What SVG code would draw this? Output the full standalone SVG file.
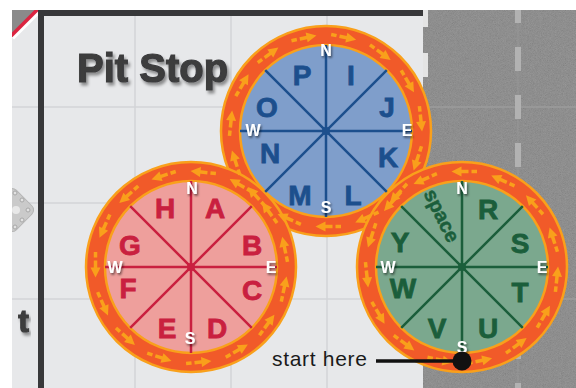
<svg xmlns="http://www.w3.org/2000/svg" width="576" height="388" viewBox="0 0 576 388">
<style>
.ring{fill:#f15a29;stroke:#f9a01b;stroke-width:2.5}
.disk{stroke:#f9a01b;stroke-width:2.5}
.adash{stroke:#f9a01b;stroke-width:3.5;fill:none}
.ahead{fill:#f9a01b}
.spk{fill:none;stroke-width:2.5}
.letter{font-family:"Liberation Sans",Arial,sans-serif;font-weight:bold;font-size:28px;text-anchor:middle;stroke-width:0.8}
.dir{font-family:"Liberation Sans",Arial,sans-serif;font-weight:bold;font-size:16px;fill:#ffffff;text-anchor:middle}
.title{font-family:"Liberation Sans",Arial,sans-serif;font-weight:bold;font-size:40px;fill:#3c3c3e;stroke:#3c3c3e;stroke-width:1.2}
.grid{stroke:#d3d4d7;stroke-width:1.5}
.frame{fill:#38383a}
</style>
<defs>
<filter id="sh" x="-30%" y="-30%" width="160%" height="160%"><feDropShadow dx="1.2" dy="1.8" stdDeviation="1" flood-color="#000" flood-opacity="0.55"/></filter>
<filter id="tsh" x="-10%" y="-20%" width="120%" height="140%"><feDropShadow dx="2" dy="3" stdDeviation="1.8" flood-color="#000" flood-opacity="0.4"/></filter>
<filter id="noise" x="0" y="0" width="100%" height="100%"><feTurbulence type="fractalNoise" baseFrequency="1.4" numOctaves="1" seed="7"/><feColorMatrix type="matrix" values="0.33 0.33 0.33 0 0  0.33 0.33 0.33 0 0  0.33 0.33 0.33 0 0  0 0 0 0 1"/></filter>
<g id="unit"><path class="adash" d="M-15,-95.5H-9.5M-6.5,-95.5H2"/><path class="ahead" d="M0.5,-100.5L10.5,-95.5L0.5,-90.5Z"/></g>
<g id="arrows">
<use href="#unit"/><use href="#unit" transform="rotate(24)"/><use href="#unit" transform="rotate(48)"/><use href="#unit" transform="rotate(72)"/><use href="#unit" transform="rotate(96)"/><use href="#unit" transform="rotate(120)"/><use href="#unit" transform="rotate(144)"/><use href="#unit" transform="rotate(168)"/><use href="#unit" transform="rotate(192)"/><use href="#unit" transform="rotate(216)"/><use href="#unit" transform="rotate(240)"/><use href="#unit" transform="rotate(264)"/><use href="#unit" transform="rotate(288)"/><use href="#unit" transform="rotate(312)"/><use href="#unit" transform="rotate(336)"/>
</g>
<path id="spokes" d="M0,-86V86M-86,0H86M-60.8,-60.8L60.8,60.8M60.8,-60.8L-60.8,60.8"/>
</defs>

<!-- background -->
<rect width="576" height="388" fill="#ffffff"/>
<rect x="12" y="10" width="564" height="378" fill="#e7e8ea"/>
<g id="grid">
<path class="grid" d="M135,10V388M231,10V388M327,10V388M12,107H423M12,203H423M12,299H423"/>
</g>
<!-- road -->
<g id="road">
<rect x="423" y="10" width="153" height="378" fill="#7b7b7b"/>
<rect x="423" y="10" width="153" height="378" filter="url(#noise)" opacity="0.3"/>
<path d="M423,107H576M423,299H576" stroke="#9c9c9c" stroke-width="1.5"/>
<path d="M518,10V388" stroke="#969696" stroke-width="1"/>
<path d="M518,10V23M518,47V71M518,95V119M518,143V167M518,191V215M518,239V263M518,287V311M518,335V359M518,383V388" stroke="#b2b2b2" stroke-width="6"/>
<rect x="423" y="10" width="5" height="17" fill="#e4e4e4"/>
<rect x="423" y="53" width="5" height="24" fill="#e4e4e4"/>
</g>
<!-- corner and frame -->
<g id="corner">
<polygon points="12,10 37,10 12,35" fill="#8a8a8a"/>
<line x1="13" y1="38.5" x2="40.5" y2="11" stroke="#ffffff" stroke-width="3"/>
<line x1="11" y1="36" x2="38" y2="9" stroke="#dc2440" stroke-width="3.5"/>
</g>
<g id="plate">
<rect x="-5" y="193" width="34" height="34" rx="6" transform="rotate(45 12 210)" fill="#cacaca" stroke="#b5b5b5"/>
<circle cx="22" cy="200" r="2" fill="#e2e2e2" stroke="#a8a8a8"/>
<circle cx="28" cy="210" r="2" fill="#e2e2e2" stroke="#a8a8a8"/>
<circle cx="22" cy="220" r="2" fill="#e2e2e2" stroke="#a8a8a8"/>
<circle cx="15" cy="193" r="2" fill="#e2e2e2" stroke="#a8a8a8"/>
<circle cx="15" cy="227" r="2" fill="#e2e2e2" stroke="#a8a8a8"/>
<circle cx="16" cy="210" r="4" fill="#e8e8e8"/>
</g>
<rect x="0" y="0" width="12" height="388" fill="#ffffff"/>
<rect x="0" y="0" width="576" height="10" fill="#ffffff"/>
<text x="29" y="332" text-anchor="end" class="title" style="font-size:32px" filter="url(#tsh)">t</text>
<g id="frame">
<rect class="frame" x="38" y="10" width="385" height="6"/>
<rect class="frame" x="38" y="10" width="6" height="378"/>
</g>

<g id="title"><text class="title" x="77" y="82" filter="url(#tsh)">Pit Stop</text></g>

<!-- shared orange track under the wheels -->
<g id="track">
<circle class="ring" cx="326" cy="131" r="105"/>
<circle class="ring" cx="191" cy="267" r="105"/>
<circle class="ring" cx="462" cy="267" r="105"/>
</g>

<g id="wheel-blue">
<circle class="disk" cx="326" cy="131" r="86" fill="#7f9ecb"/>
<use href="#arrows" transform="translate(326,131) rotate(-12)"/>
<use href="#spokes" class="spk" stroke="#1c4f8d" transform="translate(326,131)"/>
<circle cx="326" cy="131" r="4" fill="#1c4f8d"/>
<g class="letter" fill="#1c4f8d" stroke="#1c4f8d">
<text x="302" y="85">P</text><text x="351" y="85">I</text><text x="387" y="117">J</text><text x="388" y="167">K</text>
<text x="353" y="205">L</text><text x="300" y="205">M</text><text x="270" y="163">N</text><text x="267" y="117">O</text>
</g>
<g class="dir" filter="url(#sh)">
<text x="326" y="56">N</text><text x="407" y="136">E</text><text x="326" y="213">S</text><text x="253" y="136">W</text>
</g>
</g>

<g id="wheel-red">
<circle class="disk" cx="191" cy="267" r="86" fill="#ee9f9c"/>
<use href="#arrows" transform="translate(191,267) scale(-1,1) rotate(-6)"/>
<use href="#spokes" class="spk" stroke="#c9203f" transform="translate(191,267)"/>
<circle cx="191" cy="267" r="4" fill="#c9203f"/>
<g class="letter" fill="#c9203f" stroke="#c9203f">
<text x="165" y="218">H</text><text x="215" y="218">A</text><text x="252" y="255">B</text><text x="252" y="300">C</text>
<text x="217" y="338">D</text><text x="167" y="338">E</text><text x="128" y="298">F</text><text x="130" y="255">G</text>
</g>
<g class="dir" filter="url(#sh)">
<text x="192" y="194">N</text><text x="271" y="273">E</text><text x="190" y="344">S</text><text x="115" y="273">W</text>
</g>
</g>

<g id="wheel-green">
<circle class="disk" cx="462" cy="267" r="86" fill="#7ba88e"/>
<use href="#arrows" transform="translate(462,267) scale(-1,1) rotate(0)"/>
<use href="#spokes" class="spk" stroke="#1b5e3b" transform="translate(462,267)"/>
<circle cx="462" cy="267" r="4" fill="#1b5e3b"/>
<g class="letter" fill="#1b5e3b" stroke="#1b5e3b">
<text x="488" y="219">R</text><text x="520" y="253">S</text><text x="520" y="302">T</text><text x="488" y="338">U</text>
<text x="437" y="338">V</text><text x="403" y="298">W</text><text x="400" y="252">Y</text>
<text transform="translate(441,216) rotate(64)" y="6" style="font-size:20px;stroke-width:0.5">space</text>
</g>
<g class="dir" filter="url(#sh)">
<text x="462" y="194">N</text><text x="542" y="273">E</text><text x="462" y="353">S</text><text x="388" y="273">W</text>
</g>
</g>

<g id="connectors">
<line x1="376" y1="361" x2="456" y2="361" stroke="#111111" stroke-width="3.5"/>
</g>
<g id="start">
<circle cx="462" cy="361" r="9.5" fill="#111111"/>
<text x="272" y="366" font-family="'Liberation Sans',Arial,sans-serif" font-size="21" fill="#1a1a1a" textLength="95">start here</text>
</g>
</svg>
